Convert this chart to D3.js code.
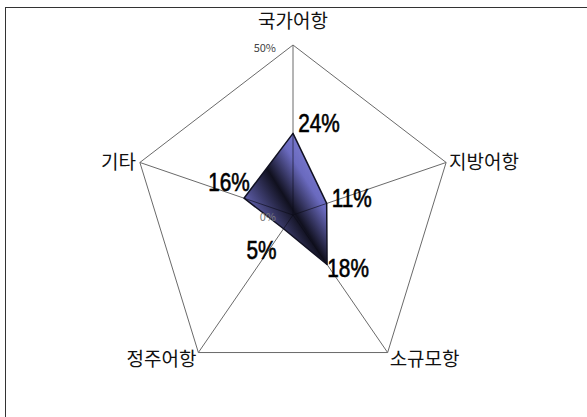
<!DOCTYPE html>
<html>
<head>
<meta charset="utf-8">
<script src="https://cdn.jsdelivr.net/npm/d3@7"></script>
<style>
  body { margin: 0; background: #fff; }
  text { font-family: "Noto Sans CJK KR", sans-serif; }
</style>
</head>
<body>
<svg width="587" height="417"></svg>
<script>
var categories = ["국가어항", "지방어항", "소규모항", "정주어항", "기타"];
var values = [24, 11, 18, 5, 16];
var valueLabels = ["24%", "11%", "18%", "5%", "16%"];
var axisMax = 50;
var axisTickLabels = ["0%", "50%"];

// where each value label sits relative to its point (centre of text)
var labelOffset = [[26, -10], [25, -5], [21, 3], [-22, 21], [-15, -16]];

var svg = d3.select("svg"),
    cx = 293, cy = 215;

// chart is a little squashed horizontally, like the original picture
var rx = d3.scaleLinear().domain([0, axisMax]).range([0, 161]),
    ry = d3.scaleLinear().domain([0, axisMax]).range([0, 170]);

var angle = d3.scalePoint().domain(categories).range([0, 2 * Math.PI * 4 / 5]);

function pt(cat, v) {
  var a = angle(cat);
  return [cx + rx(v) * Math.sin(a), cy - ry(v) * Math.cos(a)];
}

// frame
svg.append("rect")
    .attr("x", 5.5).attr("y", 7.5)
    .attr("width", 600).attr("height", 430)
    .attr("fill", "none").attr("stroke", "#333");

var defs = svg.append("defs");
var grad = defs.append("linearGradient")
    .attr("id", "fillGrad")
    .attr("gradientUnits", "userSpaceOnUse")
    .attr("x1", 244).attr("y1", 230).attr("x2", 340).attr("y2", 170);
[[0, "#7b7bd6"], [0.15, "#5e5eaa"], [0.46, "#10101e"], [0.7, "#6a6abf"], [0.85, "#7a7acf"], [1, "#7a7acf"]]
  .forEach(function(s) {
    grad.append("stop").attr("offset", s[0]).attr("stop-color", s[1]);
  });

// outer ring
var outer = categories.map(function(c) { return pt(c, axisMax); });
svg.append("polygon")
    .attr("points", outer.map(function(p) { return p.join(","); }).join(" "))
    .attr("fill", "none")
    .attr("stroke", "#6a6a6a")
    .attr("stroke-width", 1);

// spokes
svg.selectAll(".spoke")
  .data(categories)
  .enter().append("line")
    .attr("class", "spoke")
    .attr("x1", cx).attr("y1", cy)
    .attr("x2", function(d) { return pt(d, axisMax)[0]; })
    .attr("y2", function(d) { return pt(d, axisMax)[1]; })
    .attr("stroke", "#6a6a6a");

// data area
var area = categories.map(function(c, i) { return pt(c, values[i]); });
svg.append("polygon")
    .attr("points", area.map(function(p) { return p.join(","); }).join(" "))
    .attr("fill", "url(#fillGrad)")
    .attr("stroke", "#111122")
    .attr("stroke-width", 1.5)
    .attr("stroke-linejoin", "round");

// spokes drawn over the area, thin and dark
svg.selectAll(".inner")
  .data(categories)
  .enter().append("line")
    .attr("x1", cx).attr("y1", cy)
    .attr("x2", function(d, i) { return pt(d, values[i])[0]; })
    .attr("y2", function(d, i) { return pt(d, values[i])[1]; })
    .attr("stroke", "#0c0c18")
    .attr("stroke-opacity", 0.6);

// axis tick labels
svg.append("text")
    .attr("x", cx - 17).attr("y", cy - ry(axisMax) + 7)
    .attr("text-anchor", "end")
    .attr("font-size", 11)
    .attr("fill", "#444")
    .text(axisTickLabels[1]);
svg.append("text")
    .attr("x", cx - 17).attr("y", cy + 6)
    .attr("text-anchor", "end")
    .attr("font-size", 11)
    .attr("fill", "#777")
    .text(axisTickLabels[0]);

// category labels
var catPos = [
  { dx: 0, dy: -17, anchor: "middle" },
  { dx: 3, dy: 7, anchor: "start" },
  { dx: 2, dy: 13, anchor: "start" },
  { dx: -2, dy: 13, anchor: "end" },
  { dx: -4, dy: 7, anchor: "end" }
];
svg.selectAll(".cat")
  .data(categories)
  .enter().append("text")
    .attr("class", "cat")
    .attr("x", function(d, i) { return pt(d, axisMax)[0] + catPos[i].dx; })
    .attr("y", function(d, i) { return pt(d, axisMax)[1] + catPos[i].dy; })
    .attr("text-anchor", function(d, i) { return catPos[i].anchor; })
    .attr("font-size", 19)
    .attr("fill", "#111")
    .text(function(d) { return d; });

// value labels, narrowed like the original's condensed face
svg.selectAll(".val")
  .data(valueLabels)
  .enter().append("text")
    .attr("class", "val")
    .attr("transform", function(d, i) {
      var p = pt(categories[i], values[i]);
      return "translate(" + (p[0] + labelOffset[i][0]) + "," + (p[1] + labelOffset[i][1] + 9) + ") scale(0.8,1)";
    })
    .attr("text-anchor", "middle")
    .attr("font-size", 26)
    .style("font-family", "'Liberation Sans', Arial, sans-serif")
    .attr("fill", "#000")
    .attr("stroke", "#000")
    .attr("stroke-width", 0.6)
    .text(function(d) { return d; });
</script>
</body>
</html>
